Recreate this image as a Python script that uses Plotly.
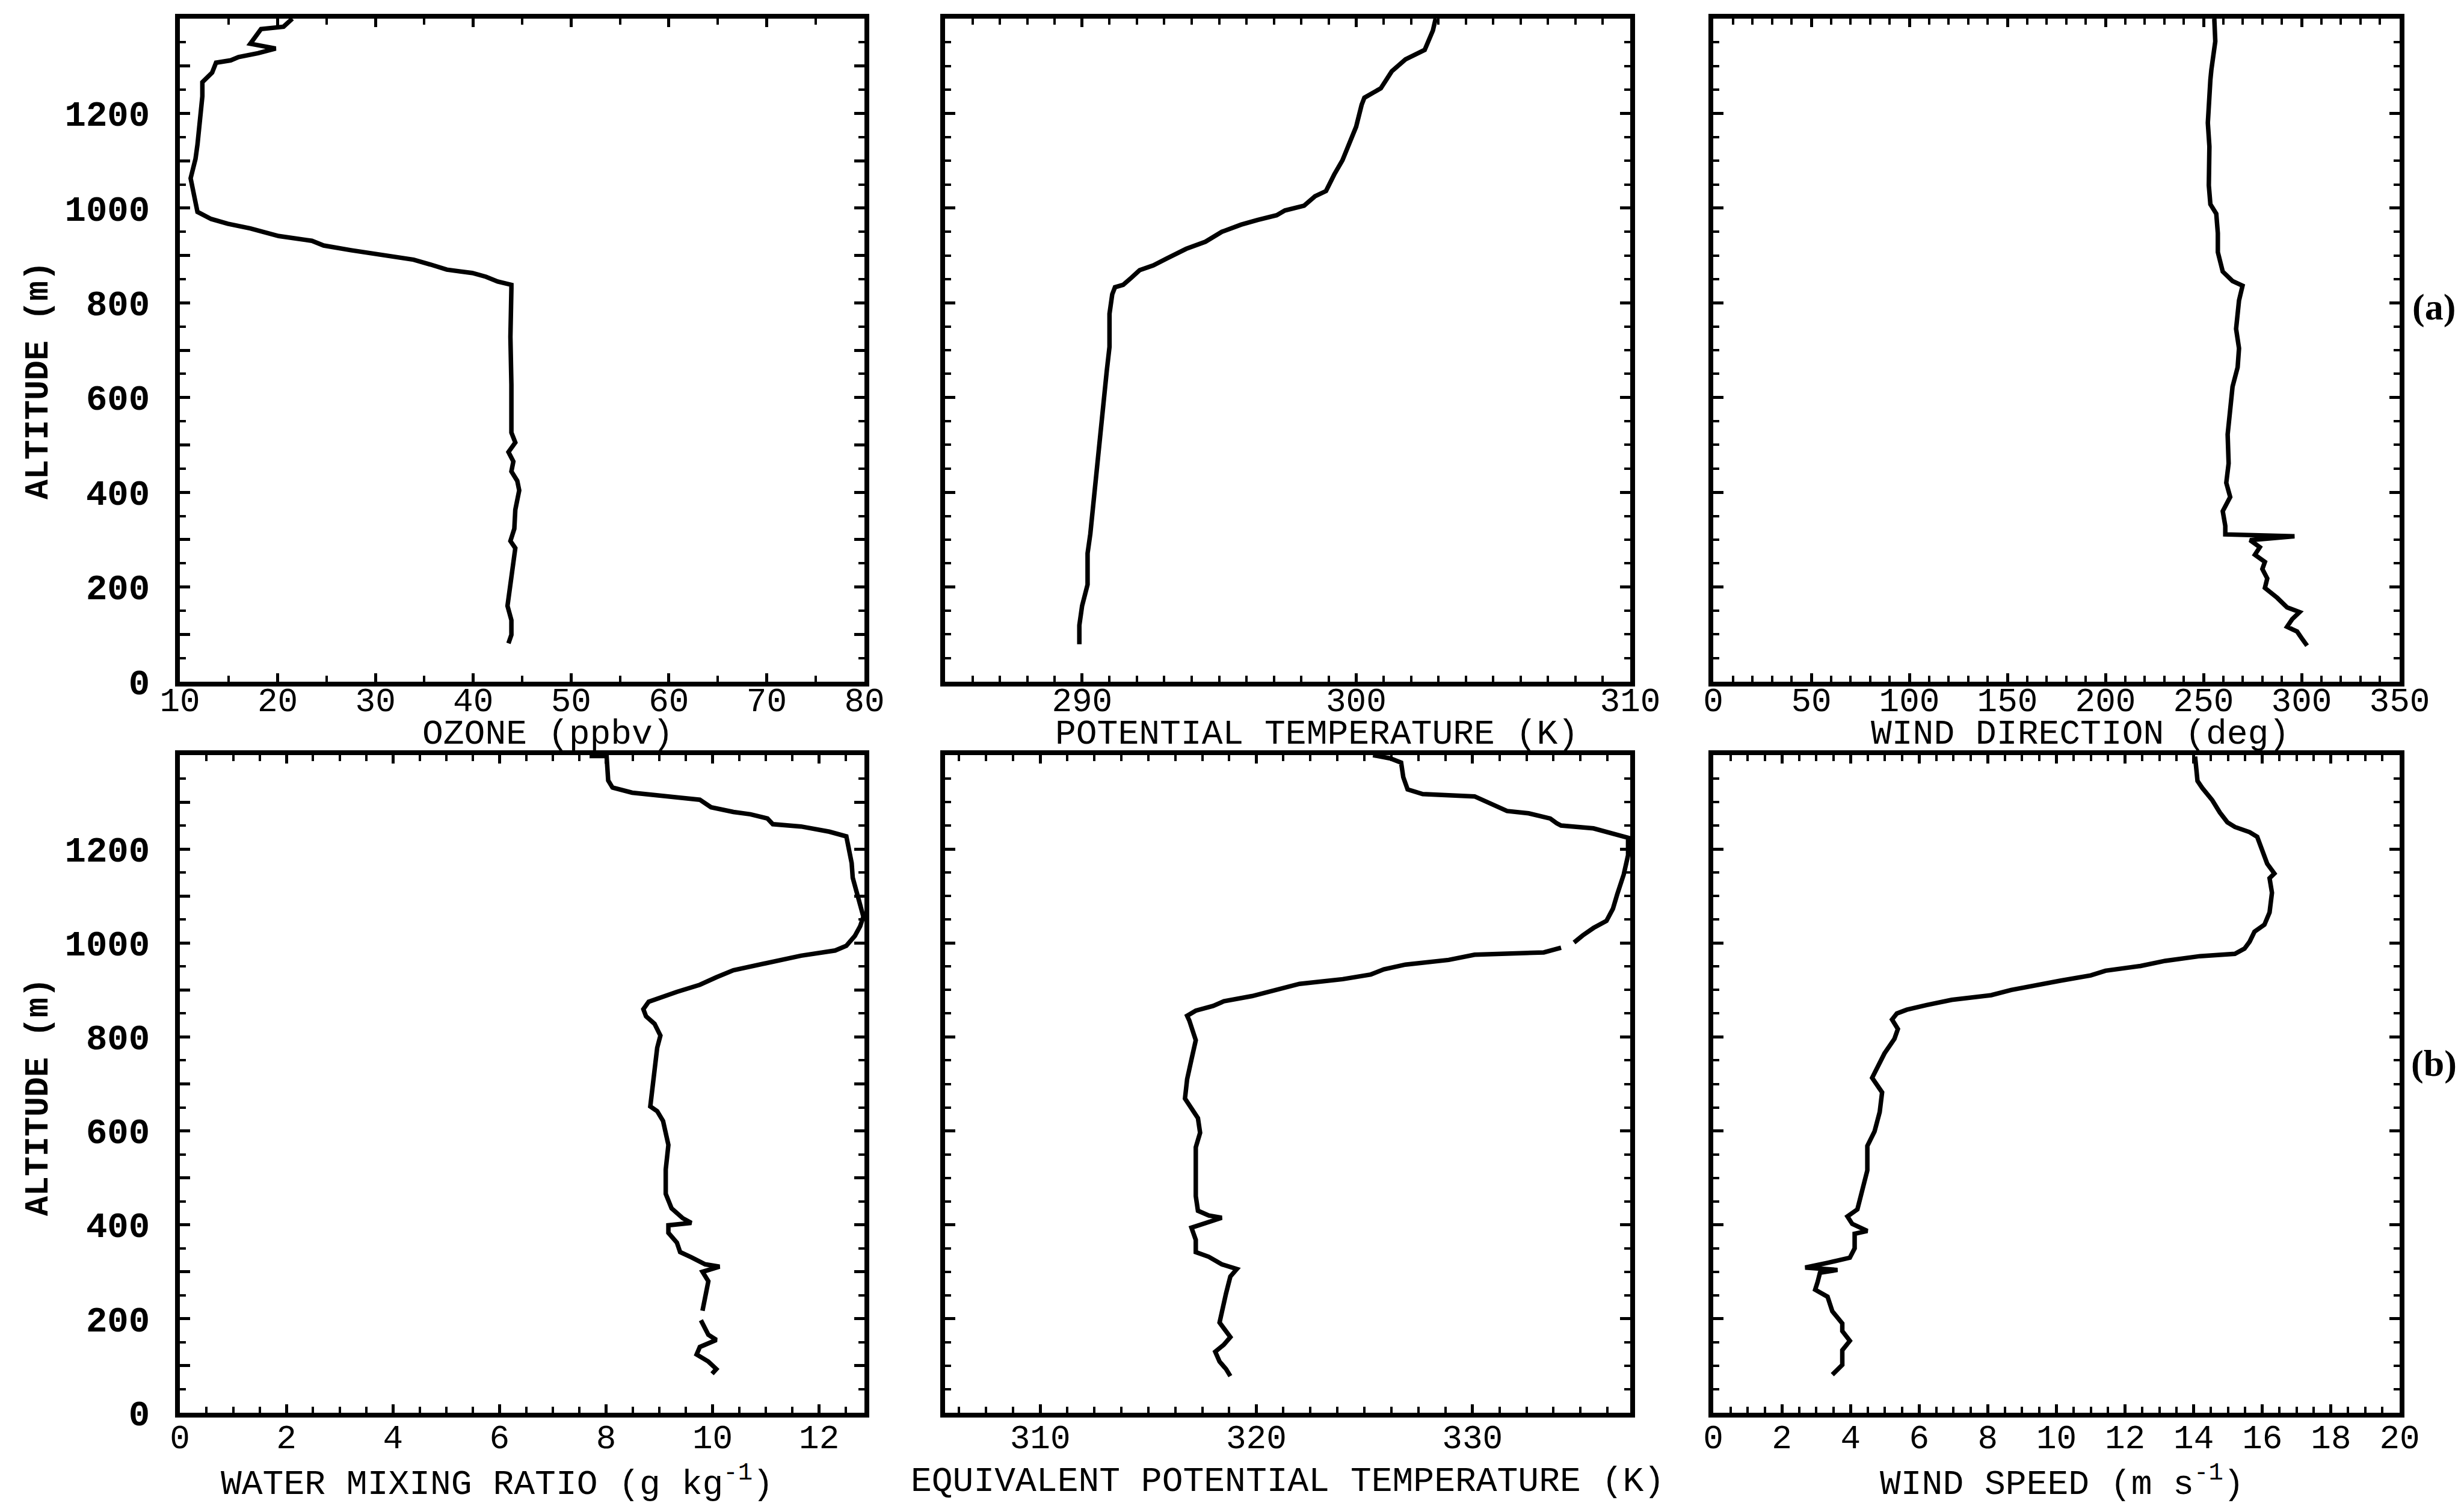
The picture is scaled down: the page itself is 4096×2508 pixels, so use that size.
import plotly.graph_objects as go

W, H = 4096, 2508

# ---------------- profile data (altitude in m) ----------------
ozone_alt = [1400, 1383, 1378, 1362, 1347, 1337, 1327, 1319, 1312, 1307, 1286, 1266, 1236,
             1134, 1104, 1063, 1033, 992, 977, 967, 957, 941, 931, 921, 911, 901, 891, 881,
             870, 863, 855, 845, 838, 830, 728, 627, 526, 505, 485, 465, 444, 424, 404, 363,
             323, 297, 282, 221, 160, 130, 99, 81]
ozone_ppbv = [21.5, 20.6, 18.3, 17.8, 17.2, 19.8, 18.0, 16.0, 15.2, 13.7, 13.3, 12.3, 12.3,
              11.8, 11.6, 11.1, 11.4, 11.8, 13.2, 14.9, 17.2, 20.1, 23.5, 24.7, 27.5, 30.4,
              33.9, 35.6, 37.3, 39.9, 41.3, 42.5, 43.9, 43.9, 43.8, 43.9, 43.9, 44.3, 43.6,
              44.1, 43.9, 44.5, 44.7, 44.3, 44.2, 43.8, 44.3, 43.9, 43.5, 43.9, 43.9, 43.6]

theta_alt = [1400, 1375, 1334, 1314, 1289, 1273, 1253, 1233, 1218, 1172, 1132, 1101, 1071,
             1036, 1025, 1005, 995, 985, 975, 965, 950, 929, 914, 904, 894, 879, 869, 853,
             838, 833, 818, 777, 707, 656, 595, 555, 474, 423, 352, 312, 271, 205, 160, 119, 79]
theta_k = [302.9, 302.8, 302.5, 301.8, 301.3, 301.1, 300.9, 300.3, 300.2, 300.0, 299.7,
           299.5, 299.2, 298.9, 298.5, 298.1, 297.4, 297.1, 296.4, 295.8, 295.1, 294.5,
           293.8, 293.4, 293.1, 292.6, 292.1, 291.8, 291.5, 291.2, 291.1, 291.0, 291.0,
           290.9, 290.8, 290.7, 290.6, 290.5, 290.4, 290.3, 290.2, 290.2, 290.0, 289.9, 289.9]

wdir_alt = [1400, 1352, 1292, 1271, 1180, 1130, 1048, 1008, 988, 947, 907, 866, 846, 836,
            805, 745, 704, 664, 623, 582, 522, 461, 420, 390, 360, 329, 311, 307, 299, 284,
            268, 253, 238, 218, 198, 177, 157, 147, 132, 116, 106, 91, 76]
wdir_deg = [255.5, 256.0, 254.0, 253.5, 252.2, 253.0, 252.7, 253.5, 256.5, 257.3, 257.3,
            259.8, 264.8, 269.9, 268.1, 266.6, 268.1, 267.4, 264.8, 263.6, 262.3, 262.8,
            261.6, 263.6, 259.8, 261.1, 261.1, 296.4, 273.7, 278.7, 276.2, 281.3, 280.0,
            282.5, 281.3, 287.6, 292.6, 299.0, 295.2, 292.6, 297.7, 300.2, 302.8]

mix_alt = [1398, 1398, 1346, 1331, 1320, 1315, 1310, 1305, 1289, 1279, 1274, 1265, 1253,
           1248, 1237, 1227, 1201, 1170, 1139, 1098, 1056, 1036, 1015, 994, 984, 973, 958,
           942, 927, 911, 896, 885, 875, 859, 844, 828, 803, 777, 725, 683, 652, 642, 621,
           570, 518, 466, 435, 414, 404, 399, 383, 362, 342, 331, 316, 311, 300, 280, 238,
           217, None, 197, 166, 155, 140, 124, 109, 93, 83]
mix_gkg = [7.69, 8.01, 8.04, 8.12, 8.49, 9.02, 9.33, 9.76, 9.97, 10.39, 10.71, 11.03, 11.13,
           11.66, 12.19, 12.51, 12.56, 12.61, 12.63, 12.72, 12.83, 12.77, 12.67, 12.51,
           12.30, 11.66, 11.03, 10.39, 10.07, 9.76, 9.33, 9.02, 8.80, 8.70, 8.75, 8.91,
           9.02, 8.96, 8.91, 8.86, 8.83, 8.96, 9.07, 9.17, 9.12, 9.12, 9.23, 9.44, 9.60,
           9.17, 9.17, 9.33, 9.39, 9.60, 9.86, 10.13, 9.81, 9.92, 9.86, 9.81, None, 9.78,
           9.92, 10.07, 9.76, 9.70, 9.92, 10.07, 9.99]

thetae_alt = [1400, 1393, 1384, 1353, 1327, 1317, 1312, 1296, 1281, 1276, 1265, 1255, 1250,
              1244, 1234, 1224, 1187, 1146, 1104, 1073, 1047, 1032, 1016, 1001, None, 990,
              980, 975, 964, 954, 944, 933, 923, 913, 902, 897, 887, 876, 866, 856, 845, 835,
              793, 752, 710, 669, 648, 627, 596, 565, 524, 461, 430, 420, 415, 404, 394, 368,
              342, 332, 316, 306, 290, 254, 213, 192, 161, 145, 130, 109, 93, 78]
thetae_k = [325.4, 326.2, 326.7, 326.8, 327.0, 327.7, 330.1, 330.9, 331.6, 332.6, 333.6,
            333.9, 334.1, 335.6, 336.5, 337.2, 337.2, 337.0, 336.7, 336.5, 336.2, 335.6,
            335.1, 334.7, None, 334.1, 333.3, 330.1, 328.9, 326.9, 325.9, 325.3, 324.0,
            322.0, 321.0, 320.7, 319.8, 318.5, 318.0, 317.2, 316.8, 316.9, 317.2, 317.0,
            316.8, 316.7, 317.0, 317.3, 317.4, 317.2, 317.2, 317.2, 317.3, 317.8, 318.4,
            317.7, 317.0, 317.2, 317.2, 317.8, 318.4, 319.1, 318.8, 318.6, 318.4, 318.3,
            318.8, 318.5, 318.1, 318.3, 318.6, 318.8]

wspd_alt = [1397, 1345, 1330, 1304, 1278, 1257, 1247, 1236, 1226, 1200, 1169, 1148, 1138,
            1107, 1065, 1039, 1024, 1003, 988, 977, 972, 962, 951, 941, 931, 920, 910, 900,
            889, 879, 868, 858, 850, 837, 817, 796, 765, 723, 713, 682, 640, 599, 568, 516,
            464, 433, 418, 402, 387, 381, 350, 330, 319, 309, 304, 298, 278, 262, 247, 216,
            190, 174, 153, 133, 102, 81]
wspd_ms = [14.04, 14.11, 14.25, 14.54, 14.76, 14.98, 15.20, 15.63, 15.85, 15.99, 16.14,
           16.35, 16.21, 16.28, 16.21, 16.06, 15.77, 15.63, 15.48, 15.20, 14.18, 13.17,
           12.45, 11.43, 11.00, 10.13, 9.41, 8.68, 8.10, 6.95, 6.22, 5.64, 5.35, 5.21,
           5.38, 5.28, 4.99, 4.70, 4.63, 4.92, 4.85, 4.70, 4.49, 4.49, 4.31, 4.20, 3.91,
           4.05, 4.49, 4.12, 4.12, 3.98, 3.33, 2.68, 3.62, 3.11, 3.04, 2.97, 3.33, 3.47,
           3.76, 3.76, 3.98, 3.76, 3.76, 3.47]

# ---------------- axis definitions ----------------
ALT_RANGE = [0, 1400]
alt_major = list(range(0, 1401, 100))
alt_text = [str(v) if (v % 200 == 0 and v <= 1200) else "" for v in alt_major]

panels = [
    # (values, altitudes, x range, labelled ticks, minor tick step, minor tick0, title, col, row)
    (ozone_ppbv, ozone_alt, [10, 80], list(range(10, 81, 10)), 5, 10,
     "OZONE (ppbv)", 0, 0),
    (theta_k, theta_alt, [285, 310], [290, 300, 310], 1, 285,
     "POTENTIAL TEMPERATURE (K)", 1, 0),
    (wdir_deg, wdir_alt, [0, 350], list(range(0, 351, 50)), 10, 0,
     "WIND DIRECTION (deg)", 2, 0),
    (mix_gkg, mix_alt, [0, 12.85], list(range(0, 13, 2)), 0.5, 0,
     "WATER MIXING RATIO (g kg<sup>-1</sup>)", 0, 1),
    (thetae_k, thetae_alt, [305.6, 337.3], [310, 320, 330], 1.25, 310,
     "EQUIVALENT POTENTIAL TEMPERATURE (K)", 1, 1),
    (wspd_ms, wspd_alt, [0, 20], list(range(0, 21, 2)), 0.5, 0,
     "WIND SPEED (m s<sup>-1</sup>)", 2, 1),
]

col_px = [(299, 1437), (1571, 2710), (2848, 3989)]
row_px = [(31, 1133), (1255, 2348)]
title_dx = [[43, 48, 39], [-42, 0, 9]]
title_cy = [1220, 2462]
xlabel_standoff = [-26, -16]

MONO = "Liberation Mono"
INK = "black"

fig = go.Figure()
layout = dict(
    width=W, height=H,
    margin=dict(l=0, r=0, t=0, b=0, pad=0, autoexpand=False),
    paper_bgcolor="white", plot_bgcolor="white",
    showlegend=False,
    annotations=[],
)

for i, (xv, yv, xr, xt, mstep, m0, title, col, row) in enumerate(panels, start=1):
    xd = [col_px[col][0] / W, col_px[col][1] / W]
    yd = [1 - row_px[row][1] / H, 1 - row_px[row][0] / H]
    xname = "xaxis" if i == 1 else f"xaxis{i}"
    yname = "yaxis" if i == 1 else f"yaxis{i}"
    fig.add_trace(go.Scatter(
        x=xv, y=yv, mode="lines",
        line=dict(color=INK, width=7.5),
        connectgaps=False, hoverinfo="skip",
        xaxis="x" if i == 1 else f"x{i}",
        yaxis="y" if i == 1 else f"y{i}",
    ))
    layout[xname] = dict(
        domain=xd, range=xr, anchor="y" if i == 1 else f"y{i}",
        automargin=False,
        showline=True, linewidth=8, linecolor=INK, mirror="allticks",
        ticks="inside", ticklen=14, tickwidth=5, tickcolor=INK,
        tickmode="array", tickvals=xt, ticktext=[str(v) for v in xt],
        minor=dict(ticks="inside", dtick=mstep, tick0=m0, ticklen=10,
                   tickwidth=4, tickcolor=INK, showgrid=False),
        tickfont=dict(family=MONO, size=56, color=INK),
        ticklabelstandoff=xlabel_standoff[row],
        showgrid=False, zeroline=False, fixedrange=True,
    )
    layout[yname] = dict(
        domain=yd, range=ALT_RANGE, anchor="x" if i == 1 else f"x{i}",
        automargin=False,
        showline=True, linewidth=8, linecolor=INK, mirror="allticks",
        ticks="inside", ticklen=17, tickwidth=5, tickcolor=INK,
        tickmode="array", tickvals=alt_major, ticktext=alt_text,
        minor=dict(ticks="inside", dtick=50, tick0=0, ticklen=10,
                   tickwidth=4, tickcolor=INK, showgrid=False),
        showticklabels=(col == 0),
        tickfont=dict(family=MONO, size=59, color=INK, weight="bold"),
        ticklabelstandoff=30,
        showgrid=False, zeroline=False, fixedrange=True,
    )
    # x-axis title under each panel
    cx = (col_px[col][0] + col_px[col][1]) / 2 + title_dx[row][col]
    cy = title_cy[row]
    layout["annotations"].append(dict(
        text=title, x=cx / W, y=1 - cy / H, xref="paper", yref="paper",
        xanchor="center", yanchor="middle", showarrow=False,
        font=dict(family=MONO, size=58, color=INK),
    ))

# altitude titles on the left of each row
for cy in (632, 1823):
    layout["annotations"].append(dict(
        text="ALTITUDE (m)", x=64 / W, y=1 - cy / H, xref="paper", yref="paper",
        xanchor="center", yanchor="middle", showarrow=False, textangle=-90,
        font=dict(family=MONO, size=55, color=INK, weight="bold"),
    ))

# row labels
for lab, cy in (("(a)", 510), ("(b)", 1767)):
    layout["annotations"].append(dict(
        text=lab, x=4046 / W, y=1 - cy / H, xref="paper", yref="paper",
        xanchor="center", yanchor="middle", showarrow=False,
        font=dict(family="Liberation Serif", size=62, color=INK, weight="bold"),
    ))

fig.update_layout(**layout)
fig.write_html("out.html")
